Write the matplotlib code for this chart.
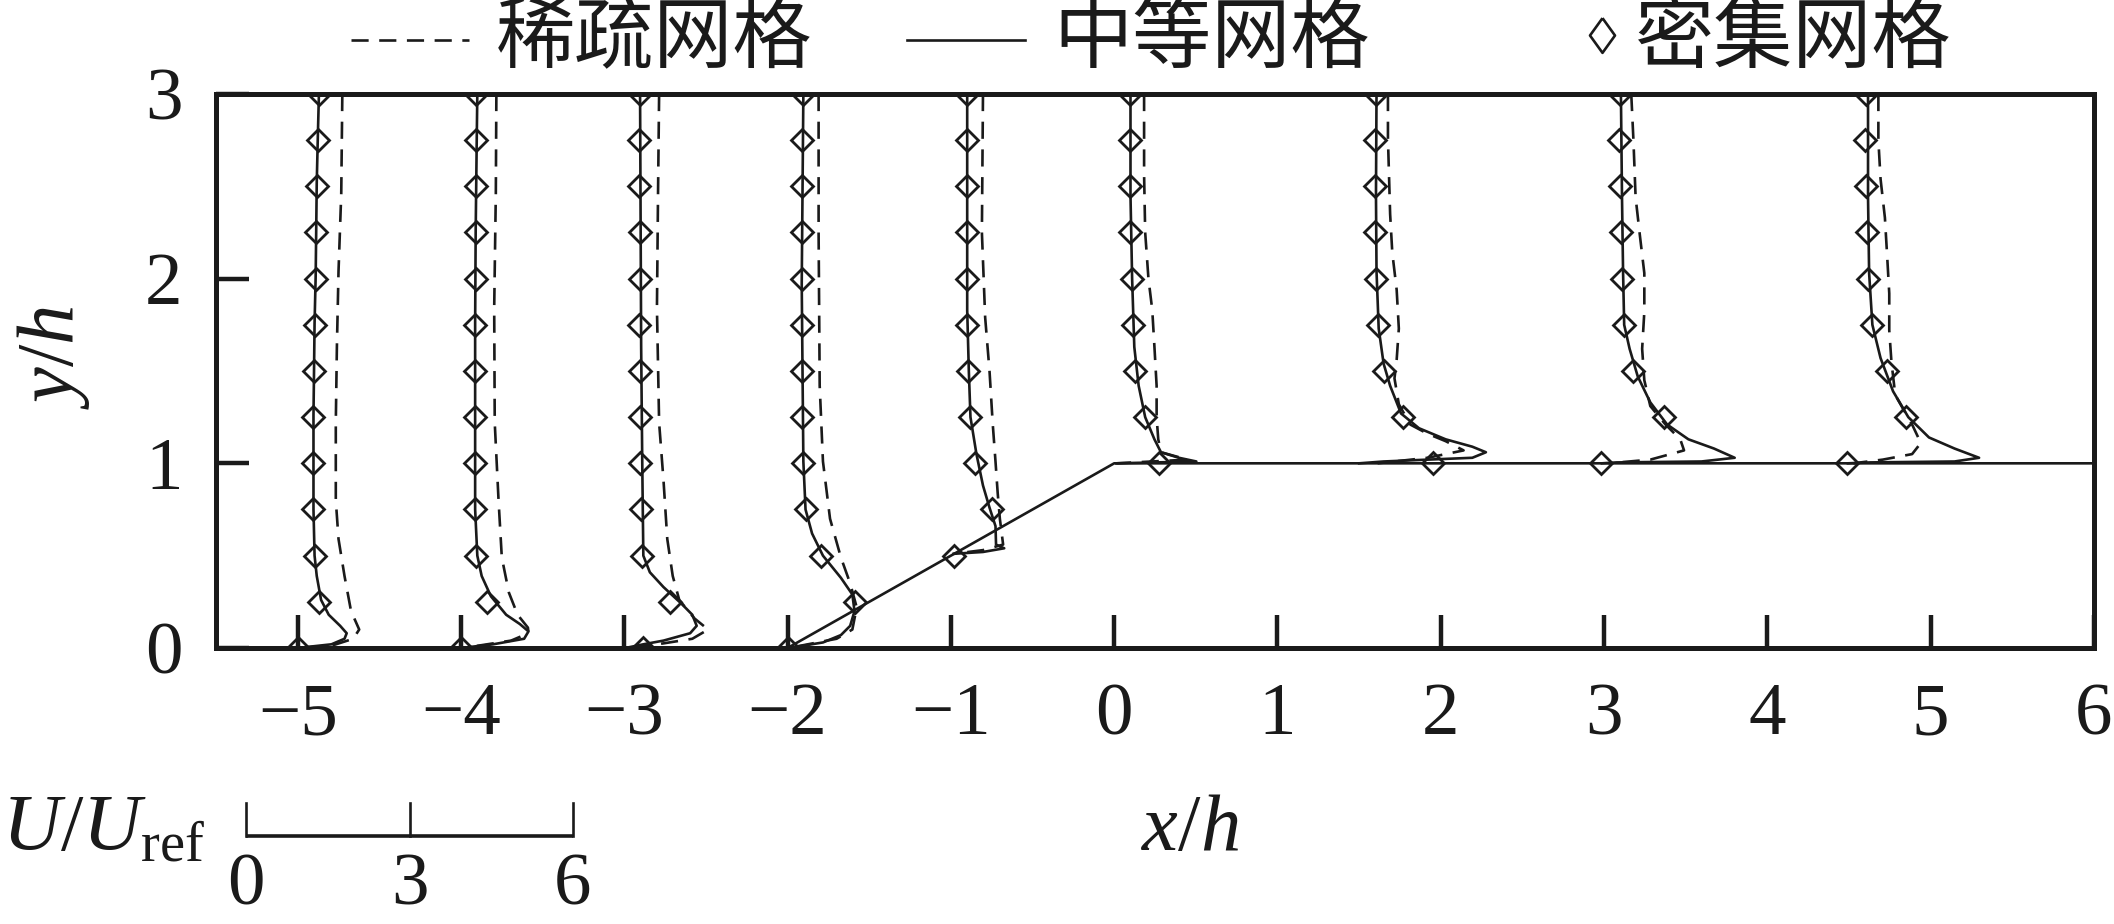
import matplotlib
matplotlib.use('Agg')
import matplotlib.pyplot as plt
from matplotlib.lines import Line2D
from matplotlib.transforms import blended_transform_factory

plt.rcParams['font.family'] = ['Liberation Serif', 'DejaVu Serif']
plt.rcParams['mathtext.fontset'] = 'custom'
plt.rcParams['mathtext.rm'] = 'Liberation Serif'
plt.rcParams['mathtext.it'] = 'Liberation Serif:italic'
plt.rcParams['axes.unicode_minus'] = True

# measuring stations (x/h) and velocity scale: 3 U/Uref per unit of x/h
stations = [-5, -4, -3, -2, -1, 0, 1.5, 3, 4.5]
u_scale = 3.0

# wall: ramp from (-2,0) to (0,1), then flat
wall_x = [-2, 0, 6]
wall_y = [0, 1, 1]

# medium grid (solid)
medium_y = [
    [3.0, 2.77, 2.52, 2.26, 2.01, 1.76, 1.5, 1.26, 1.01, 0.75, 0.5, 0.39, 0.26, 0.18, 0.12, 0.08, 0.05, 0.02, 0.0],
    [3.0, 2.77, 2.26, 1.76, 1.26, 1.01, 0.75, 0.5, 0.39, 0.28, 0.18, 0.13, 0.09, 0.05, 0.02, 0.0],
    [3.0, 1.63, 1.01, 0.75, 0.5, 0.41, 0.33, 0.24, 0.18, 0.12, 0.08, 0.04, 0.02, 0.0],
    [3.0, 1.97, 1.01, 0.75, 0.62, 0.5, 0.38, 0.29, 0.2, 0.12, 0.07, 0.03, 0.0],
    [3.0, 1.83, 1.5, 1.25, 1.05, 0.88, 0.76, 0.66, 0.56, 0.54, 0.52, 0.51],
    [3.0, 2.45, 2.0, 1.63, 1.42, 1.25, 1.13, 1.06, 1.03, 1.01, 1.0],
    [3.0, 2.45, 2.04, 1.73, 1.54, 1.42, 1.27, 1.19, 1.13, 1.09, 1.06, 1.03, 1.02, 1.01, 1.0],
    [3.0, 2.44, 2.03, 1.75, 1.62, 1.47, 1.33, 1.21, 1.13, 1.08, 1.03, 1.01, 1.005, 1.0],
    [3.0, 2.44, 2.03, 1.75, 1.57, 1.39, 1.25, 1.14, 1.08, 1.03, 1.01, 1.005, 1.0],
]
medium_u = [
    [0.39, 0.37, 0.35, 0.34, 0.33, 0.31, 0.30, 0.29, 0.29, 0.29, 0.31, 0.35, 0.43, 0.57, 0.78, 0.90, 0.86, 0.62, 0.0],
    [0.30, 0.29, 0.27, 0.26, 0.26, 0.26, 0.26, 0.30, 0.38, 0.55, 0.83, 1.08, 1.24, 1.16, 0.59, 0.0],
    [0.29, 0.31, 0.33, 0.34, 0.35, 0.47, 0.72, 1.05, 1.25, 1.33, 1.21, 0.72, 0.35, 0.02],
    [0.29, 0.26, 0.29, 0.33, 0.45, 0.65, 0.98, 1.19, 1.23, 1.15, 0.98, 0.65, 0.02],
    [0.30, 0.30, 0.33, 0.36, 0.47, 0.59, 0.71, 0.82, 0.83, 0.98, 0.59, 0.05],
    [0.30, 0.30, 0.33, 0.37, 0.45, 0.57, 0.74, 0.86, 1.19, 1.51, 0.04],
    [0.32, 0.31, 0.32, 0.36, 0.45, 0.57, 0.77, 1.10, 1.59, 2.08, 2.33, 2.08, 1.26, 0.45, 0.0],
    [0.31, 0.33, 0.35, 0.37, 0.47, 0.62, 0.85, 1.16, 1.55, 2.02, 2.40, 1.79, 0.23, -0.04],
    [0.35, 0.35, 0.37, 0.43, 0.58, 0.81, 1.09, 1.47, 1.94, 2.39, 1.94, 0.39, -0.02],
]

# coarse grid (dashed)
coarse_y = [
    [3.0, 2.46, 2.04, 1.63, 1.22, 0.8, 0.59, 0.39, 0.2, 0.1, 0.05, 0.015, 0.0],
    [3.0, 2.46, 1.84, 1.22, 0.8, 0.49, 0.3, 0.18, 0.11, 0.08, 0.04, 0.01, 0.0],
    [3.0, 2.46, 1.84, 1.22, 0.91, 0.59, 0.39, 0.26, 0.16, 0.10, 0.05, 0.025, 0.0],
    [3.0, 2.25, 1.42, 1.01, 0.7, 0.49, 0.35, 0.22, 0.1, 0.05, 0.0],
    [3.0, 2.25, 1.79, 1.5, 1.21, 1.01, 0.84, 0.7, 0.56, 0.53, 0.51],
    [3.0, 2.56, 2.25, 2.0, 1.83, 1.63, 1.42, 1.25, 1.13, 1.06, 1.02, 1.0],
    [3.0, 2.76, 2.35, 2.14, 1.94, 1.73, 1.56, 1.46, 1.32, 1.21, 1.16, 1.12, 1.07, 1.03, 1.0],
    [3.0, 2.75, 2.44, 2.23, 2.03, 1.82, 1.62, 1.45, 1.31, 1.21, 1.13, 1.07, 1.02, 1.0],
    [3.0, 2.75, 2.54, 2.33, 2.13, 1.92, 1.72, 1.55, 1.37, 1.21, 1.11, 1.05, 1.02, 1.0],
]
coarse_u = [
    [0.82, 0.80, 0.75, 0.72, 0.70, 0.70, 0.75, 0.86, 0.98, 1.13, 1.02, 0.65, 0.02],
    [0.65, 0.64, 0.61, 0.62, 0.69, 0.75, 0.88, 1.04, 1.23, 1.24, 0.92, 0.26, 0.02],
    [0.64, 0.62, 0.60, 0.64, 0.72, 0.79, 0.89, 1.01, 1.29, 1.54, 1.25, 0.72, 0.02],
    [0.57, 0.57, 0.59, 0.65, 0.78, 0.98, 1.15, 1.27, 1.19, 0.90, 0.02],
    [0.59, 0.57, 0.63, 0.71, 0.77, 0.82, 0.86, 0.90, 0.96, 0.59, 0.05],
    [0.55, 0.55, 0.57, 0.63, 0.70, 0.74, 0.78, 0.78, 0.81, 0.86, 1.35, 0.04],
    [0.53, 0.53, 0.57, 0.61, 0.69, 0.73, 0.69, 0.65, 0.73, 0.94, 1.26, 1.59, 1.92, 1.26, 0.34],
    [0.50, 0.54, 0.58, 0.66, 0.74, 0.74, 0.70, 0.74, 0.85, 1.13, 1.40, 1.47, 0.85, 0.08],
    [0.54, 0.54, 0.58, 0.66, 0.70, 0.74, 0.74, 0.78, 0.85, 1.16, 1.32, 1.16, 0.62, 0.08],
]

# dense grid (diamonds)
y_full = [3.0, 2.75, 2.5, 2.25, 2.0, 1.75, 1.5, 1.25, 1.0, 0.75, 0.5, 0.25, 0.0]
dense_y = [y_full, y_full, y_full, y_full, y_full[:11],
           y_full[:9], y_full[:9], y_full[:9], y_full[:9]]
dense_u = [
    [0.39, 0.37, 0.35, 0.34, 0.33, 0.31, 0.30, 0.29, 0.29, 0.29, 0.31, 0.39, 0.0],
    [0.28, 0.28, 0.28, 0.27, 0.27, 0.26, 0.26, 0.26, 0.26, 0.26, 0.28, 0.47, 0.0],
    [0.29, 0.27, 0.27, 0.29, 0.29, 0.27, 0.29, 0.29, 0.29, 0.31, 0.33, 0.84, 0.34],
    [0.29, 0.26, 0.26, 0.26, 0.26, 0.26, 0.26, 0.27, 0.29, 0.33, 0.62, 1.23, 0.0],
    [0.30, 0.30, 0.30, 0.30, 0.30, 0.30, 0.32, 0.36, 0.45, 0.75, 0.06],
    [0.29, 0.29, 0.30, 0.30, 0.33, 0.34, 0.39, 0.57, 0.83],
    [0.31, 0.29, 0.29, 0.30, 0.31, 0.35, 0.45, 0.80, 1.36],
    [0.29, 0.27, 0.29, 0.31, 0.33, 0.37, 0.54, 1.10, -0.05],
    [0.31, 0.29, 0.31, 0.33, 0.35, 0.43, 0.70, 1.05, -0.04],
]

# velocity scale bar
scale_ticks = [0, 3, 6]
scale_x0 = -5.315

labels = ['稀疏网格', '中等网格', '密集网格']

ink = '#1a1a1a'
lw = 1.9
dash = (0, (6.5, 4))

fig = plt.figure(figsize=(21.14, 9.24), dpi=100)
ax = fig.add_axes([0.1022, 0.2987, 0.8883, 0.5996])

ax.plot(wall_x, wall_y, color=ink, lw=lw, zorder=2)

for i, st in enumerate(stations):
    ax.plot([st + u / u_scale for u in coarse_u[i]], coarse_y[i],
            color=ink, lw=lw, ls=dash, zorder=3)
    ax.plot([st + u / u_scale for u in medium_u[i]], medium_y[i],
            color=ink, lw=lw, zorder=3)
    ax.plot([st + u / u_scale for u in dense_u[i]], dense_y[i],
            ls='none', marker='D', ms=11.5, mfc='none', mec=ink, mew=2.0, zorder=4)

ax.set_xlim(-5.5, 6)
ax.set_ylim(0, 3)
ax.set_xticks(range(-5, 7))
ax.set_yticks([0, 1, 2, 3])
for s in ax.spines.values():
    s.set_linewidth(3.6)
    s.set_color(ink)
ax.tick_params(direction='in', length=24, width=3.2, colors=ink, labelsize=54)
ax.tick_params(axis='x', pad=25)
ax.tick_params(axis='y', pad=24)

# axis labels
fig.text(0.0255, 0.614, r'$y/h$', rotation=90, ha='center', va='center', fontsize=58, color=ink)
fig.text(0.563, 0.080, r'$x/h$', ha='center', va='baseline', fontsize=58, color=ink)
fig.text(0.001, 0.080, r'$U/U_{\mathrm{ref}}$', ha='left', va='baseline', fontsize=58, color=ink)

# scale bar for U/Uref
tr = blended_transform_factory(ax.transData, fig.transFigure)
bx = [scale_x0 + u / u_scale for u in scale_ticks]
ax.plot([bx[0], bx[-1]], [0.0952, 0.0952], transform=tr, color=ink, lw=2.6, clip_on=False,
        solid_capstyle='butt')
for x, u in zip(bx, scale_ticks):
    ax.plot([x, x], [0.0952, 0.131], transform=tr, color=ink, lw=1.9, clip_on=False)
    ax.text(x, 0.004, str(u), transform=tr, ha='center', va='bottom', fontsize=54, color=ink)

# legend across the top
ly = 0.957
fig.add_artist(Line2D([0.166, 0.222], [ly, ly], color=ink, lw=lw, ls=dash))
fig.add_artist(Line2D([0.429, 0.485], [ly, ly], color=ink, lw=lw))
fig.add_artist(Line2D([0.758], [0.962], ls='none', marker=[(0, 1), (0.72, 0), (0, -1), (-0.72, 0), (0, 1)],
                      ms=25, mfc='none', mec=ink, mew=1.9))
for x, t in zip([0.2345, 0.4985, 0.7735], labels):
    fig.text(x, ly, t, ha='left', va='center', fontsize=57, color=ink,
             family=['Noto Sans CJK SC', 'DejaVu Sans'])

fig.savefig('out.png', dpi=100)
